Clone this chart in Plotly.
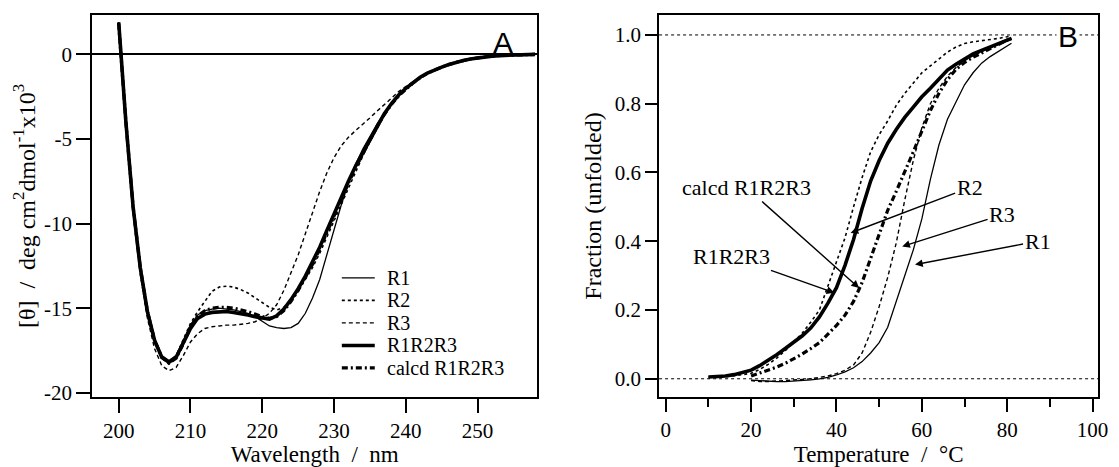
# CD spectra (A) and thermal unfolding curves (B) for R1, R2, R3, R1R2R3 and calcd R1R2R3
import plotly.graph_objects as go
from plotly.subplots import make_subplots

# -------------------
# Panel A data: wavelength scans
# -------------------
wavelength = list(range(200, 259))

cd_r1 = [1.9, -3.9, -8.9, -12.5, -15.1, -16.8, -17.8, -18.1, -17.8, -16.9,
         -16.0, -15.4, -15.15, -15.05, -15.0, -15.05, -15.1, -15.2, -15.3, -15.5,
         -15.8, -16.05, -16.15, -16.2, -16.15, -15.9, -15.3, -14.4, -13.3, -11.8,
         -10.3, -8.9, -7.6, -6.5, -5.6, -4.85, -4.1, -3.45, -2.9, -2.4,
         -2.0, -1.65, -1.35, -1.1, -0.9, -0.72, -0.57, -0.45, -0.35, -0.26,
         -0.19, -0.13, -0.09, -0.06, -0.04, -0.03, -0.02, -0.01, 0.0]
cd_r2 = [1.9, -4.0, -9.0, -12.6, -15.2, -16.9, -17.9, -18.2, -17.8, -16.9,
         -15.9, -15.2, -14.6, -14.0, -13.75, -13.7, -13.75, -13.9, -14.1, -14.4,
         -14.7, -14.95, -15.1, -14.95, -14.5, -13.95, -13.3, -12.6, -11.75, -10.8,
         -9.8, -8.8, -7.85, -6.9, -6.0, -5.15, -4.35, -3.6, -2.95, -2.45,
         -2.05, -1.7, -1.4, -1.15, -0.92, -0.75, -0.6, -0.47, -0.36, -0.27,
         -0.2, -0.14, -0.1, -0.07, -0.05, -0.03, -0.02, -0.01, 0.0]
cd_r3 = [1.5, -4.3, -9.4, -13.0, -15.6, -17.4, -18.4, -18.7, -18.5, -17.8,
         -17.0, -16.5, -16.2, -16.1, -16.05, -16.0, -16.0, -15.95, -15.9, -15.8,
         -15.6, -15.3, -14.8, -13.95, -12.95, -11.85, -10.6, -9.35, -8.1, -7.0,
         -6.1, -5.4, -4.9, -4.5, -4.15, -3.75, -3.35, -2.95, -2.55, -2.2,
         -1.9, -1.6, -1.33, -1.1, -0.9, -0.73, -0.58, -0.46, -0.35, -0.26,
         -0.19, -0.13, -0.09, -0.06, -0.04, -0.03, -0.02, -0.01, 0.0]
cd_r123 = [1.9, -4.0, -9.0, -12.6, -15.2, -16.9, -17.9, -18.2, -17.9, -17.1,
           -16.2, -15.6, -15.35, -15.25, -15.2, -15.2, -15.25, -15.3, -15.4, -15.5,
           -15.6, -15.65, -15.45, -15.05, -14.5, -13.85, -13.1, -12.3, -11.4, -10.4,
           -9.4, -8.4, -7.5, -6.6, -5.8, -5.0, -4.2, -3.5, -2.9, -2.4,
           -2.0, -1.65, -1.35, -1.1, -0.9, -0.75, -0.6, -0.47, -0.36, -0.27,
           -0.2, -0.14, -0.1, -0.07, -0.05, -0.03, -0.02, -0.01, 0.0]
cd_calcd = [1.8, -4.0, -9.0, -12.6, -15.2, -16.9, -17.9, -18.25, -17.95, -17.1,
            -16.1, -15.45, -15.15, -15.0, -14.95, -14.95, -15.0, -15.1, -15.2, -15.35,
            -15.5, -15.6, -15.5, -15.15, -14.6, -13.95, -13.2, -12.4, -11.5, -10.5,
            -9.5, -8.5, -7.6, -6.7, -5.85, -5.05, -4.25, -3.55, -2.95, -2.45,
            -2.05, -1.68, -1.38, -1.12, -0.92, -0.75, -0.6, -0.47, -0.36, -0.27,
            -0.2, -0.14, -0.1, -0.07, -0.05, -0.03, -0.02, -0.01, 0.0]

# -------------------
# Panel B data: thermal melts
# -------------------
temp_full = list(range(10, 81, 2)) + [81]
temp_late = list(range(20, 81, 2)) + [81]

fu_r2 = [0.005, 0.004, 0.006, 0.008, 0.012, 0.016, 0.027, 0.042, 0.060, 0.082,
         0.106, 0.133, 0.165, 0.20, 0.27, 0.34, 0.41, 0.50, 0.585, 0.66,
         0.71, 0.75, 0.795, 0.83, 0.86, 0.89, 0.91, 0.93, 0.95, 0.965,
         0.975, 0.98, 0.983, 0.985, 0.99, 0.995, 1.0]
fu_r123 = [0.005, 0.006, 0.008, 0.012, 0.018, 0.025, 0.038, 0.053, 0.07, 0.088,
           0.106, 0.125, 0.148, 0.18, 0.22, 0.265, 0.33, 0.405, 0.495, 0.575,
           0.635, 0.685, 0.725, 0.76, 0.79, 0.82, 0.845, 0.873, 0.898, 0.915,
           0.93, 0.945, 0.955, 0.965, 0.975, 0.983, 0.99]
fu_calcd = [0.008, 0.016, 0.024, 0.034, 0.045, 0.058, 0.072, 0.088, 0.105, 0.13,
            0.155, 0.185, 0.225, 0.28, 0.35, 0.425, 0.49, 0.545, 0.60, 0.66,
            0.72, 0.78, 0.83, 0.87, 0.9, 0.92, 0.935, 0.948, 0.96, 0.972,
            0.985, 0.99]
fu_r3 = [-0.005, -0.008, -0.008, -0.007, -0.006, -0.004, -0.002, 0.0, 0.003, 0.008,
         0.015, 0.025, 0.04, 0.075, 0.135, 0.21, 0.295, 0.395, 0.52, 0.635,
         0.73, 0.80, 0.845, 0.88, 0.905, 0.925, 0.94, 0.952, 0.963, 0.973,
         0.982, 0.987]
fu_r1 = [-0.004, -0.006, -0.007, -0.008, -0.008, -0.007, -0.005, -0.003, 0.0, 0.004,
         0.011, 0.02, 0.032, 0.05, 0.075, 0.105, 0.15, 0.225, 0.30, 0.375,
         0.465, 0.58, 0.68, 0.755, 0.805, 0.855, 0.89, 0.918, 0.937, 0.952,
         0.968, 0.976]

# tick labels
cd_ticks = [0, -5, -10, -15, -20]
cd_ticktext = ["0", "-5", "-10", "-15", "-20"]
wl_ticks = [200, 210, 220, 230, 240, 250]

# labels with arrows in panel B: (text, text T, text f, head T, head f)
labels_b = [
    ("calcd R1R2R3", 18.9, 0.556, 45.3, 0.264),
    ("R2", 71.2, 0.556, 43.3, 0.424),
    ("R3", 78.8, 0.477, 55.4, 0.385),
    ("R1", 87.1, 0.400, 58.4, 0.332),
    ("R1R2R3", 15.4, 0.356, 39.5, 0.250),
]

SERIF = "Liberation Serif, Times New Roman, serif"
SANS = "Liberation Sans, Arial, sans-serif"

# line styles per series
styles = {
    "R1": dict(color="black", width=1.3, dash="solid"),
    "R2": dict(color="black", width=1.6, dash="dot"),
    "R3": dict(color="black", width=1.4, dash="4px,3px"),
    "R1R2R3": dict(color="black", width=3.6, dash="solid"),
    "calcd R1R2R3": dict(color="black", width=3.2, dash="6px,3px,2px,3px"),
}

fig = make_subplots(rows=1, cols=2)

# -------------------
# Panel A traces
# -------------------
for name, ys in [("R1", cd_r1), ("R2", cd_r2), ("R3", cd_r3),
                 ("calcd R1R2R3", cd_calcd), ("R1R2R3", cd_r123)]:
    fig.add_trace(go.Scatter(x=wavelength, y=ys, mode="lines", name=name,
                             line=styles[name], showlegend=False), row=1, col=1)

# -------------------
# Panel B traces
# -------------------
for name, xs, ys in [("R1", temp_late, fu_r1), ("R3", temp_late, fu_r3),
                     ("calcd R1R2R3", temp_late, fu_calcd), ("R2", temp_full, fu_r2),
                     ("R1R2R3", temp_full, fu_r123)]:
    fig.add_trace(go.Scatter(x=xs, y=ys, mode="lines", name=name,
                             line=styles[name], showlegend=False), row=1, col=2)

axis_common = dict(showline=True, mirror=True, linecolor="black", linewidth=2,
                   showgrid=False, ticks="outside", tickcolor="black", tickwidth=2,
                   tickfont=dict(family=SERIF, size=21, color="black"))
title_font = dict(family=SERIF, size=23, color="black")

fig.update_xaxes(domain=[0.0831, 0.4844], range=[196.3, 258.3], tickvals=wl_ticks,
                 ticklen=14, zeroline=False,
                 title=dict(text="Wavelength\u00a0\u00a0/\u00a0\u00a0nm", standoff=2, font=title_font),
                 row=1, col=1, **axis_common)
fig.update_yaxes(range=[-20.25, 2.33], tickvals=cd_ticks, ticktext=cd_ticktext,
                 ticklen=14, zeroline=True, zerolinecolor="black", zerolinewidth=1.6,
                 title=dict(text="[θ]\u00a0\u00a0/\u00a0\u00a0deg cm<sup>2</sup>dmol<sup>-1</sup>x10<sup>3</sup>",
                            standoff=2, font=dict(family=SERIF, size=24, color="black")),
                 row=1, col=1, **axis_common)

fig.update_xaxes(domain=[0.5943, 0.9902], range=[-1.56, 101.3], dtick=20, tick0=0,
                 ticklen=13, zeroline=False,
                 minor=dict(dtick=10, ticks="outside", ticklen=8, tickwidth=2, tickcolor="black"),
                 title=dict(text="Temperature\u00a0\u00a0/\u00a0\u00a0°C", standoff=2, font=title_font),
                 row=1, col=2, **axis_common)
fig.update_yaxes(range=[-0.053, 1.058], dtick=0.2, tick0=0, tickformat=".1f",
                 ticklen=12, zeroline=False,
                 title=dict(text="Fraction (unfolded)", standoff=6,
                            font=dict(family=SERIF, size=24, color="black")),
                 row=1, col=2, **axis_common)

# dotted reference lines at 0 and 1 in panel B
for level in [0.0, 1.0]:
    fig.add_shape(type="line", xref="x2 domain", yref="y2", x0=0, x1=1, y0=level, y1=level,
                  line=dict(color="black", width=1, dash="dot"), layer="below")

# -------------------
# Hand-built legend for panel A (compact rows)
# -------------------
leg_names = ["R1", "R2", "R3", "R1R2R3", "calcd R1R2R3"]
leg_top, leg_step = 0.312, 0.059
for i, name in enumerate(leg_names):
    yy = leg_top - i * leg_step
    fig.add_shape(type="line", xref="x domain", yref="y domain", x0=0.561, x1=0.635,
                  y0=yy, y1=yy, line=styles[name])
    fig.add_annotation(xref="x domain", yref="y domain", x=0.657, y=yy, text=name,
                       showarrow=False, xanchor="left", yanchor="middle",
                       font=dict(family=SERIF, size=20, color="black"))

# panel letters
fig.add_annotation(xref="x domain", yref="y domain", x=0.924, y=0.927, text="A",
                   showarrow=False, xanchor="center", yanchor="middle",
                   font=dict(family=SANS, size=30, color="black"))
fig.add_annotation(xref="x2 domain", yref="y2 domain", x=0.931, y=0.945, text="B",
                   showarrow=False, xanchor="center", yanchor="middle", bgcolor="white",
                   font=dict(family=SANS, size=30, color="black"))

# labels with arrows in panel B (arrow runs from the label to the curve)
for text, tx, ty, hx, hy in labels_b:
    fig.add_annotation(xref="x2", yref="y2", x=hx, y=hy, ax=tx, ay=ty,
                       axref="x2", ayref="y2", text=text, showarrow=True,
                       arrowhead=2, arrowsize=1.1, arrowwidth=1.4, arrowcolor="black",
                       font=dict(family=SERIF, size=22, color="black"))

fig.update_layout(
    width=1119, height=467,
    margin=dict(l=0, r=0, t=15, b=70),
    paper_bgcolor="white", plot_bgcolor="white",
    font=dict(family=SERIF, color="black"),
)

# drop the page's default body margin so the figure sits at the window corner
fig.write_html("out.html", config={"displayModeBar": False},
               post_script="document.body.style.margin='0';")
